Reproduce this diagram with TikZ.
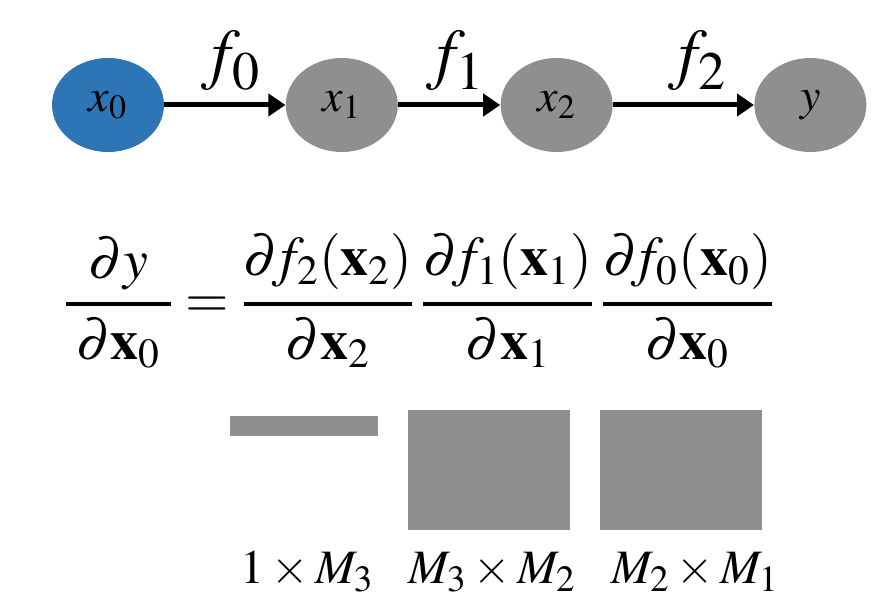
\documentclass[tikz,border=0pt]{standalone}
\usepackage{amsmath}
\usepackage{mathptmx}
\usepackage{fontspec}
\setmainfont{Liberation Serif}
\usetikzlibrary{positioning,arrows.meta,shapes.geometric}
\definecolor{inBlue}{HTML}{2E75B6}
\definecolor{varGray}{HTML}{8F8F8F}
\DeclareMathSizes{34}{34}{27}{20}
\DeclareMathSizes{24}{24}{18.5}{14}
\newcommand{\jfrac}[2]{\genfrac{}{}{2pt}{0}{#1}{#2}}
\newcommand{\fsize}{\fontsize{34}{40}\selectfont}
\newcommand{\dsize}{\fontsize{24}{28}\selectfont}

\begin{document}
\begin{tikzpicture}[
  x=0.5pt, y=-0.5pt,
  >={Triangle[length=8.5pt,width=11pt]},
  var/.style={ellipse, fill=#1, draw=none, minimum width=56pt,
              minimum height=47pt, inner sep=0pt,
              font=\fontsize{23}{27}\selectfont},
  flow/.style={->, line width=2.5pt},
  fname/.style={above=6pt, inner sep=0pt},
  jac/.style={rectangle, fill=varGray, draw=none, inner sep=0pt},
  dimLabel/.style={anchor=base, inner sep=0pt}
]
\useasboundingbox (0,0) rectangle (888,598);

% ===== Chain of variables =====
\node[var=inBlue] (x0) at (108,105) {$x_0$};
\node[var=varGray, right=60.5pt of x0] (x1) {$x_1$};
\node[var=varGray, right=51pt of x1] (x2) {$x_2$};
\node[var=varGray, right=70.5pt of x2] (y) {$y$};

\draw[flow] (x0) -- node[fname, xshift=3pt] {\fsize$f_0$} (x1);
\draw[flow] (x1) -- node[fname, xshift=3pt] {\fsize$f_1$} (x2);
\draw[flow] (x2) -- node[fname, xshift=7pt] {\fsize$f_2$} (y);

% ===== Chain rule =====
\node (chain) at (419,301) {\fontsize{28}{34}\selectfont
  $\displaystyle
  \jfrac{\hspace{5pt}\partial y\hspace{5pt}}{\hspace{5pt}\partial\mathbf{x}_0\hspace{5pt}}
  = \jfrac{\partial\! f_2(\mathbf{x}_2)}{\partial\mathbf{x}_2}\,
    \jfrac{\partial\! f_1(\mathbf{x}_1)}{\partial\mathbf{x}_1}\,
    \jfrac{\partial\! f_0(\mathbf{x}_0)}{\partial\mathbf{x}_0}$};

% ===== Jacobian shapes =====
\node[jac, minimum width=74pt, minimum height=10pt] (j2) at (304,426) {};
\node[jac, minimum width=81pt, minimum height=60pt] (j1) at (489,470) {};
\node[jac, minimum width=81pt, minimum height=60pt] (j0) at (681,470) {};

\node[dimLabel] (d2) at (307,583) {\dsize$1\times M_3$};
\node[dimLabel] (d1) at (492,583) {\dsize$M_3\times M_2$};
\node[dimLabel] (d0) at (695,583) {\dsize$M_2\times M_1$};

\end{tikzpicture}
\end{document}
